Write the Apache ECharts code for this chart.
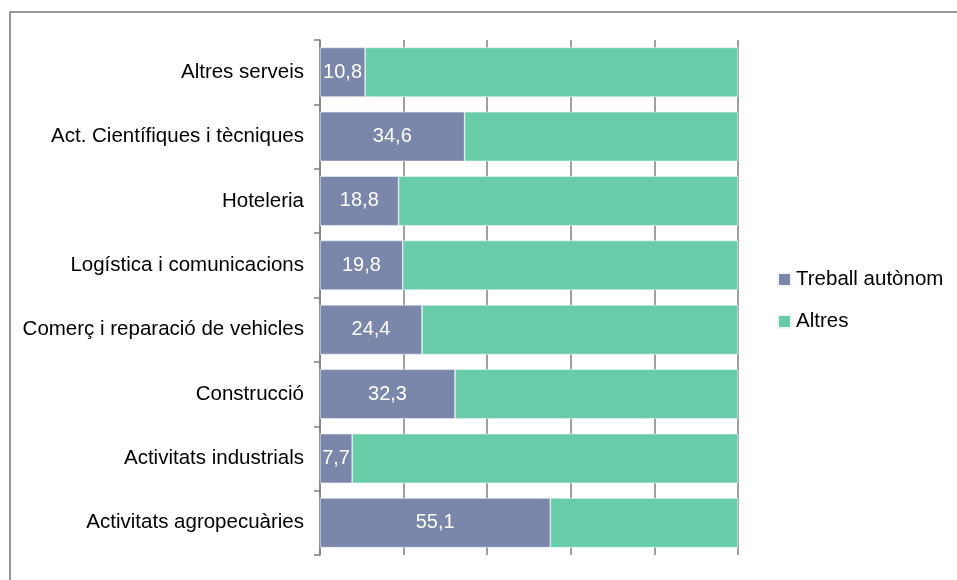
<!DOCTYPE html>
<html>
<head>
<meta charset="utf-8">
<script src="https://cdn.jsdelivr.net/npm/echarts@6/dist/echarts.min.js"></script>
<style>
  html, body { margin: 0; padding: 0; background: #fff; }
  #chart { width: 957px; height: 580px; }
</style>
</head>
<body>
<div id="chart"></div>
<script>
// bottom to top, as drawn
const categories = [
  "Activitats agropecuàries",
  "Activitats industrials",
  "Construcció",
  "Comerç i reparació de vehicles",
  "Logística i comunicacions",
  "Hoteleria",
  "Act. Científiques i tècniques",
  "Altres serveis",
];
const treballAutonom = [55.1, 7.7, 32.3, 24.4, 19.8, 18.8, 34.6, 10.8];
const altres = [44.9, 92.3, 67.7, 75.6, 80.2, 81.2, 65.4, 89.2];
const xTicks = [0, 20, 40, 60, 80, 100];

const chart = echarts.init(document.getElementById("chart"));
const font = "Liberation Sans";

const option = {
  animation: false,
  textStyle: { fontFamily: font },
  graphic: [
    {
      type: "rect",
      shape: { x: 10, y: 12, width: 1000, height: 700 },
      style: { fill: "none", stroke: "#777", lineWidth: 1.5 },
      silent: true,
    },
  ],
  grid: { left: 320, right: 219, top: 40, bottom: 25 },
  legend: {
    orient: "vertical",
    left: 772,
    top: 264,
    itemWidth: 13,
    itemHeight: 13,
    itemGap: 21,
    icon: "rect",
    textStyle: { fontSize: 20.5, color: "#000", fontFamily: font },
    data: ["Treball autònom", "Altres"],
  },
  xAxis: {
    type: "value",
    min: xTicks[0],
    max: xTicks[xTicks.length - 1],
    interval: 20,
    axisLabel: { show: false },
    axisLine: { show: false },
    axisTick: { show: true, length: 0 },
    splitLine: { show: true, lineStyle: { color: "#808080", width: 1.5 } },
  },
  yAxis: {
    type: "category",
    data: categories,
    axisLine: { show: true, lineStyle: { color: "#808080", width: 1.5 } },
    axisTick: { show: true, length: 6, lineStyle: { color: "#808080", width: 1.5 } },
    axisLabel: { fontSize: 20.5, color: "#000", margin: 16, fontFamily: font },
  },
  series: [
    {
      name: "Treball autònom",
      type: "bar",
      stack: "total",
      barCategoryGap: "23%",
      data: treballAutonom,
      itemStyle: { color: "#7b87aa", borderColor: "#f2f4f8", borderWidth: 0.6 },
      label: {
        show: true,
        position: "inside",
        color: "#fff",
        fontSize: 20,
        fontFamily: font,
        formatter: (p) => p.value.toFixed(1).replace(".", ","),
      },
    },
    {
      name: "Altres",
      type: "bar",
      stack: "total",
      barCategoryGap: "23%",
      data: altres,
      itemStyle: { color: "#68cca9", borderColor: "#eef8f4", borderWidth: 0.6 },
    },
  ],
};

chart.setOption(option);
</script>
</body>
</html>
